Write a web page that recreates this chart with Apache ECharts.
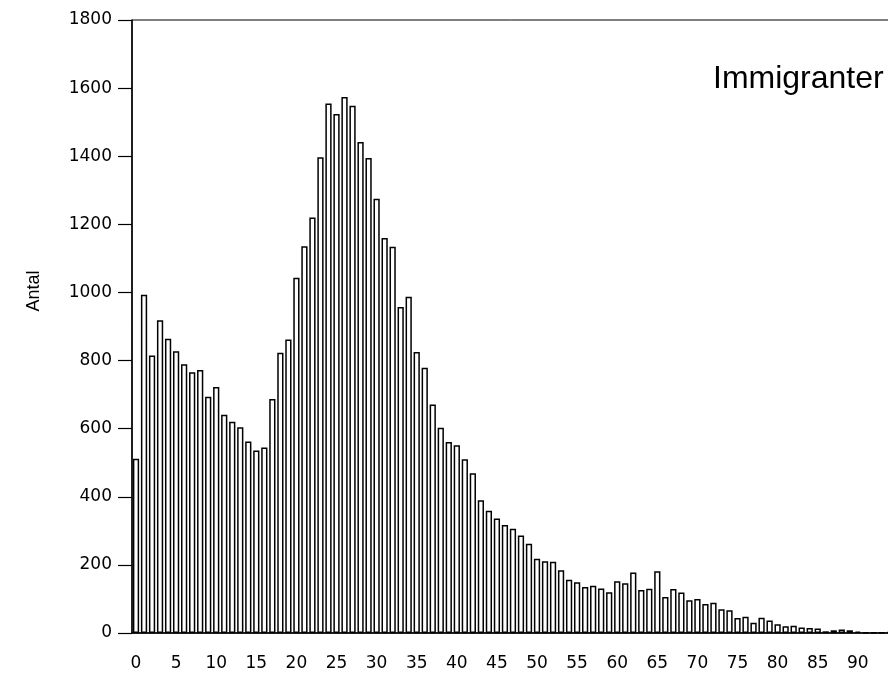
<!DOCTYPE html>
<html>
<head>
<meta charset="utf-8">
<script src="https://cdn.jsdelivr.net/npm/echarts@6/dist/echarts.min.js"></script>
<style>html,body{margin:0;padding:0;background:#fff}#c{width:888px;height:681px}</style>
</head>
<body>
<div id="c"></div>
<script>
var ages = [];
for (var a = 0; a <= 99; a++) ages.push(String(a));
var counts = [
  512, 993, 815, 918, 864, 827, 789, 766, 772, 694,
  722, 641, 620, 604, 562, 536, 545, 687, 823, 862,
  1043, 1136, 1220, 1397, 1555, 1524, 1574, 1548, 1442, 1395,
  1275, 1160, 1134, 957, 987, 825, 779, 671, 603, 561,
  551, 510, 469, 390, 359, 336, 317, 306, 286, 262,
  218, 211, 209, 184, 156, 149, 135, 139, 131, 120,
  152, 146, 178, 126, 130, 181, 106, 129, 119, 96,
  100, 85, 89, 70, 67, 44, 48, 30, 45, 37,
  26, 20, 21, 16, 15, 13, 5, 8, 10, 8,
  4, 2, 2, 1, 3, 1, 1, 0, 0, 0
];
var yTicks = { min: 0, max: 1800, interval: 200 };
var titleText = 'Immigranter';
var yName = 'Antal';

var chart = echarts.init(document.getElementById('c'));
chart.setOption({
  animation: false,
  backgroundColor: '#fff',
  grid: { left: 132, top: 20, width: 802, height: 613, outerBoundsMode: 'none', containLabel: false,
          show: true, borderColor: '#000', borderWidth: 1, backgroundColor: 'transparent' },
  title: {
    text: titleText, left: 708, top: 58,
    textStyle: { fontFamily: 'Liberation Sans', fontSize: 32, fontWeight: 'normal', color: '#000' }
  },
  graphic: [{
    type: 'text', x: 34, y: 291, rotation: Math.PI / 2,
    style: { text: yName, font: '18px "Liberation Sans"', fill: '#000', align: 'center', verticalAlign: 'middle' }
  }],
  xAxis: {
    type: 'category', data: ages,
    axisLine: { lineStyle: { color: '#000', width: 1.5 } },
    axisTick: { alignWithLabel: true, length: 12, interval: function (i) { return i % 5 === 0; }, lineStyle: { color: '#000', width: 1.5 } },
    axisLabel: { interval: function (i) { return i % 5 === 0; }, margin: 22, color: '#000', fontFamily: 'DejaVu Sans', fontSize: 17 },
    splitLine: { show: false }
  },
  yAxis: {
    type: 'value', min: yTicks.min, max: yTicks.max, interval: yTicks.interval,
    axisLine: { show: true, lineStyle: { color: '#000', width: 1.5 } },
    axisTick: { show: true, length: 14, lineStyle: { color: '#000', width: 1.2 } },
    axisLabel: { margin: 20, color: '#000', fontFamily: 'DejaVu Sans', fontSize: 17, formatter: function (v) { return String(v); } },
    splitLine: { show: false }
  },
  series: [{
    type: 'bar', data: counts, barCategoryGap: '22%',
    itemStyle: { color: '#fff', borderColor: '#000', borderWidth: 1.5 }
  }]
});
</script>
</body>
</html>
